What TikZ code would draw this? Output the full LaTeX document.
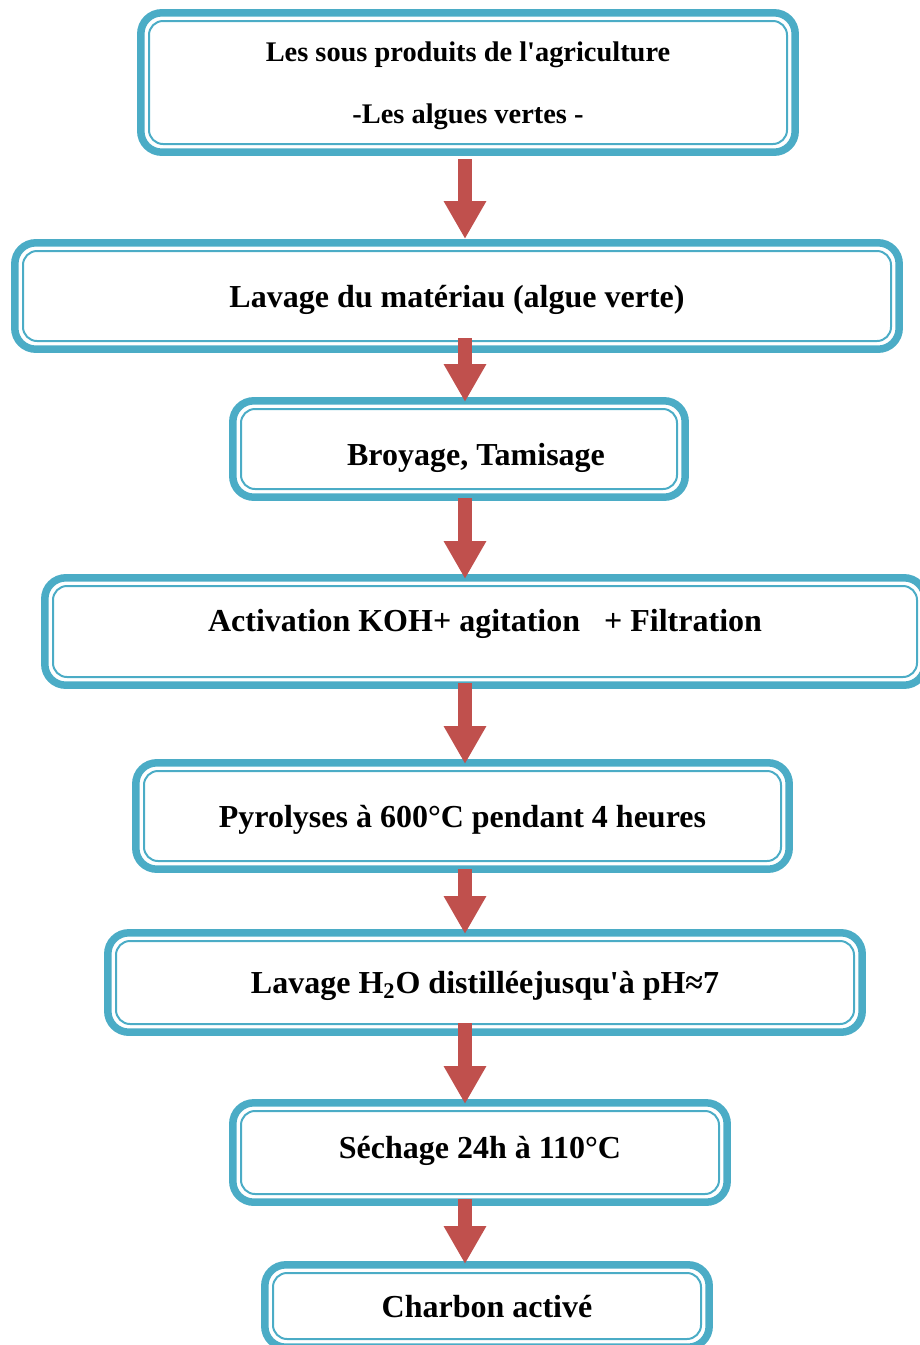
\documentclass[tikz,border=0pt]{standalone}
\usepackage{fontspec}
\setmainfont{Liberation Serif}
\usetikzlibrary{arrows.meta,calc}
\definecolor{bleucadre}{HTML}{4BACC6}
\definecolor{rougefleche}{HTML}{C0504D}

\begin{document}
\begin{tikzpicture}[
  x=0.5pt, y=-0.5pt,
  font=\bfseries\fontsize{16}{19}\selectfont,
  etape/.style={rectangle, rounded corners=7pt, draw=bleucadre, line width=1pt,
                align=center, inner sep=0pt, text depth=0pt},
  cadre/.style={draw=bleucadre, line width=3.75pt, rounded corners=10.5pt},
  fleche/.style={draw=rougefleche, line width=7pt,
                 -{Triangle[width=20pt,length=19pt]}},
]
\clip (0,0) rectangle (920,1345);
\useasboundingbox (0,0) rectangle (920,1345);

\node[etape, minimum width=319pt, minimum height=61.5pt,
      font=\bfseries\fontsize{14.2}{17}\selectfont] (src) at (468,82.5)
  {Les sous produits de l\textquotesingle agriculture\\[14pt] -Les algues vertes -};
\node[etape, minimum width=434pt, minimum height=45pt] (lav) at (457,296)
  {Lavage du matériau (algue verte)};
\node[etape, minimum width=218pt, minimum height=40pt, text height=16pt] (broy) at (459,449)
  {\hspace*{17pt}Broyage, Tamisage};
\node[etape, minimum width=432pt, minimum height=45.5pt, text depth=11pt] (act) at (485,631.5)
  {Activation KOH+ agitation \ \ + Filtration};
\node[etape, minimum width=318.5pt, minimum height=45pt, text depth=-1pt] (pyro) at (462.5,816)
  {Pyrolyses à 600°C pendant 4 heures};
\node[etape, minimum width=369pt, minimum height=41.5pt, text depth=-2pt] (rinc) at (485,982.5)
  {Lavage H\textsubscript{2}O distilléejusqu\textquotesingle à pH≈7};
\node[etape, minimum width=239pt, minimum height=41.5pt, text depth=5pt] (sech) at (480,1152.5)
  {Séchage 24h à 110°C};
\node[etape, minimum width=214pt, minimum height=33pt] (charb) at (487,1306)
  {Charbon activé};

% double bord : trait epais exterieur
\foreach \n in {src,lav,broy,act,pyro,rinc,sech,charb}
  \draw[cadre] ([shift={(-3.6pt,3.6pt)}]\n.north west) rectangle
               ([shift={(3.6pt,-3.6pt)}]\n.south east);

\coordinate (axe) at (465,0);
\foreach \a/\b/\s/\e in {src/lav/7pt/5.5pt, lav/broy/-2pt/3pt, broy/act/4pt/3pt,
    act/pyro/2.5pt/3pt, pyro/rinc/3.5pt/3pt, rinc/sech/-1pt/3pt, sech/charb/2pt/4pt}
  \draw[fleche, shorten <=\s, shorten >=\e] (\a.south -| axe) -- (\b.north -| axe);
\end{tikzpicture}
\end{document}
